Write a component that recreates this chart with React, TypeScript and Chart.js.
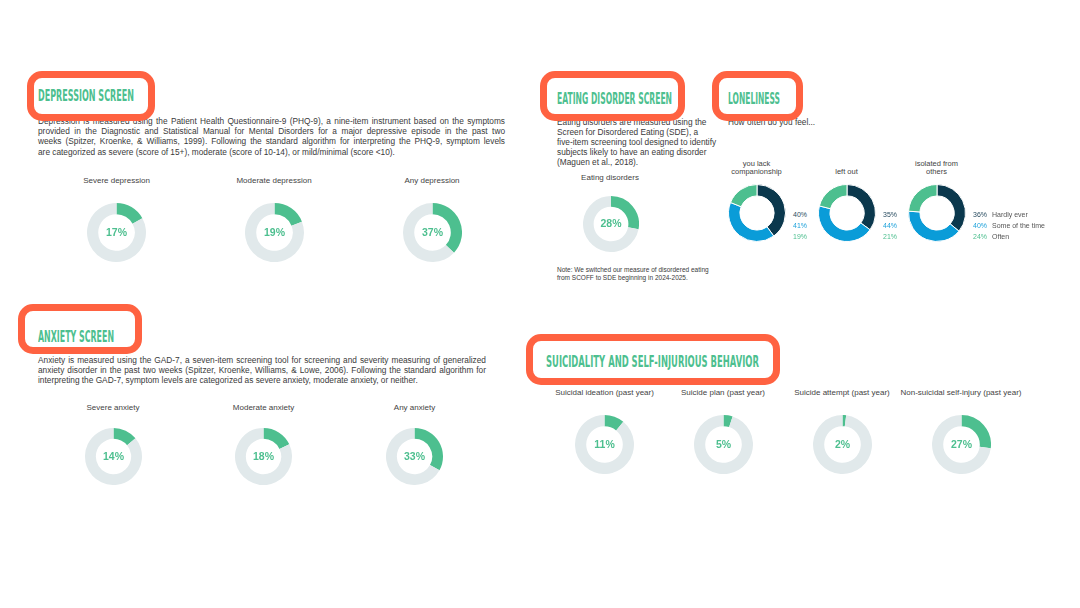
import React, { useEffect, useRef } from "react";
import { Chart, registerables } from "chart.js";

Chart.register(...registerables);

// ---------- data ----------
const depressionLabels = ["Severe depression", "Moderate depression", "Any depression"];
const depressionValues = [17, 19, 37];

const eatingLabels = ["Eating disorders"];
const eatingValues = [28];

const anxietyLabels = ["Severe anxiety", "Moderate anxiety", "Any anxiety"];
const anxietyValues = [14, 18, 33];

const suicidalityLabels = [
  "Suicidal ideation (past year)",
  "Suicide plan (past year)",
  "Suicide attempt (past year)",
  "Non-suicidal self-injury (past year)",
];
const suicidalityValues = [11, 5, 2, 27];

const lonelinessQuestions = [["you lack", "companionship"], ["left out"], ["isolated from", "others"]];
const lonelinessResponses = ["Hardly ever", "Some of the time", "Often"];
const hardlyEver = [40, 35, 36];
const someOfTheTime = [41, 44, 40];
const often = [19, 21, 24];

// ---------- style ----------
const GREEN = "#4DBF8F";
const TRACK = "#E1E9EB";
const RED = "#FF6241";
const NAVY = "#0B384D";
const BLUE = "#0A9CD8";
const TEXT = "#3a3a3a";
const BODY_FONT = "'Liberation Sans', Arial, sans-serif";

let measureCtx: CanvasRenderingContext2D | null = null;
function measure(text: string, font: string) {
  if (!measureCtx) measureCtx = document.createElement("canvas").getContext("2d");
  measureCtx!.font = font;
  return measureCtx!.measureText(text).width;
}

function Donut(props: {
  cx: number; cy: number; r: number; data: number[]; colors: string[]; cutout: string;
  border?: number; center?: string; labels: string[];
}) {
  const ref = useRef<HTMLCanvasElement>(null);
  const { cx, cy, r, data, colors, cutout, border = 0, center, labels } = props;
  useEffect(() => {
    const centerPlugin = {
      id: "centerText",
      afterDraw(chart: any) {
        if (!center) return;
        const { ctx, chartArea } = chart;
        ctx.save();
        ctx.font = "bold 10.5px 'Liberation Sans', Arial, sans-serif";
        ctx.fillStyle = GREEN;
        ctx.textAlign = "center";
        ctx.textBaseline = "middle";
        ctx.fillText(center, (chartArea.left + chartArea.right) / 2, (chartArea.top + chartArea.bottom) / 2 + 0.5);
        ctx.restore();
      },
    };
    const chart = new Chart(ref.current!, {
      type: "doughnut",
      data: {
        labels,
        datasets: [
          {
            data,
            backgroundColor: colors,
            borderWidth: border,
            borderColor: "#ffffff",
            hoverOffset: 0,
          },
        ],
      },
      options: {
        responsive: false,
        animation: false,
        cutout,
        events: [],
        layout: { padding: 0 },
        plugins: { legend: { display: false }, tooltip: { enabled: false } },
      },
      plugins: [centerPlugin],
    });
    return () => chart.destroy();
  }, []);
  const size = Math.round(2 * r + border);
  return (
    <canvas
      ref={ref}
      width={size}
      height={size}
      style={{ position: "absolute", left: cx - size / 2, top: cy - size / 2, width: size, height: size }}
    />
  );
}

function Heading(props: { text: string; x: number; cy: number; width: number }) {
  const fs = 15.5;
  const font = `bold ${fs}px 'DejaVu Sans', sans-serif`;
  const natural = measure(props.text, font);
  const k = props.width / natural;
  return (
    <div
      style={{
        position: "absolute",
        left: props.x,
        top: props.cy - fs * 0.48,
        font,
        lineHeight: `${fs}px`,
        color: GREEN,
        whiteSpace: "nowrap",
        transform: `scaleX(${k})`,
        transformOrigin: "0 0",
      }}
    >
      {props.text}
    </div>
  );
}

function Box(props: { l: number; t: number; r: number; b: number }) {
  return (
    <div
      style={{
        position: "absolute",
        left: props.l,
        top: props.t,
        width: props.r - props.l,
        height: props.b - props.t,
        boxSizing: "border-box",
        border: `7px solid ${RED}`,
        borderRadius: 15,
        background: "#ffffff",
      }}
    />
  );
}

function Lines(props: {
  x: number; cy: number; width: number; lh: number; fs: number; lines: string[]; justify?: boolean; color?: string;
}) {
  const { x, cy, width, lh, fs, lines, justify, color = TEXT } = props;
  return (
    <>
      {lines.map((ln, i) => (
        <div
          key={i}
          style={{
            position: "absolute",
            left: x,
            top: cy - lh / 2 + i * lh,
            width,
            height: lh,
            lineHeight: `${lh}px`,
            fontSize: fs,
            fontFamily: BODY_FONT,
            color,
            whiteSpace: "nowrap",
            textAlign: justify && i < lines.length - 1 ? "justify" : "left",
            textAlignLast: (justify && i < lines.length - 1 ? "justify" : "left") as any,
          }}
        >
          {ln}
        </div>
      ))}
    </>
  );
}

function Label(props: { cx: number; cy: number; text: string; fs?: number; color?: string }) {
  const fs = props.fs ?? 8;
  return (
    <div
      style={{
        position: "absolute",
        left: props.cx - 100,
        width: 200,
        top: props.cy - 6,
        height: 12,
        lineHeight: "12px",
        textAlign: "center",
        fontSize: fs,
        fontFamily: BODY_FONT,
        color: props.color ?? "#444",
        whiteSpace: "nowrap",
      }}
    >
      {props.text}
    </div>
  );
}

function Small(props: { x: number; cy: number; text: string; color: string; fs?: number }) {
  return (
    <div
      style={{
        position: "absolute",
        left: props.x,
        top: props.cy - 5,
        height: 10,
        lineHeight: "10px",
        fontSize: props.fs ?? 7,
        fontFamily: BODY_FONT,
        color: props.color,
        whiteSpace: "nowrap",
      }}
    >
      {props.text}
    </div>
  );
}

const depressionText = [
  "Depression is measured using the Patient Health Questionnaire-9 (PHQ-9), a nine-item instrument based on the symptoms",
  "provided in the Diagnostic and Statistical Manual for Mental Disorders for a major depressive episode in the past two",
  "weeks (Spitzer, Kroenke, & Williams, 1999). Following the standard algorithm for interpreting the PHQ-9, symptom levels",
  "are categorized as severe (score of 15+), moderate (score of 10-14), or mild/minimal (score <10).",
];
const anxietyText = [
  "Anxiety is measured using the GAD-7, a seven-item screening tool for screening and severity measuring of generalized",
  "anxiety disorder in the past two weeks (Spitzer, Kroenke, Williams, & Lowe, 2006). Following the standard algorithm for",
  "interpreting the GAD-7, symptom levels are categorized as severe anxiety, moderate anxiety, or neither.",
];
const eatingText = [
  "Eating disorders are measured using the",
  "Screen for Disordered Eating (SDE), a",
  "five-item screening tool designed to identify",
  "subjects likely to have an eating disorder",
  "(Maguen et al., 2018).",
];
const eatingNote = [
  "Note: We switched our measure of disordered eating",
  "from SCOFF to SDE beginning in 2024-2025.",
];

export default function App() {
  const depX = [116.5, 274, 432];
  const anxX = [113, 263.5, 414.5];
  const suiX = [604.5, 723, 842, 961];
  const lonX = [756.5, 846.5, 936.5];
  const lonLegendX = [793, 883, 973];
  const legendY = [215, 226, 237];
  const legendColors = ["#2A4D61", "#1EA2DB", GREEN];

  return (
    <div style={{ position: "absolute", left: 0, top: 0, width: 1080, height: 608, background: "#fff", overflow: "hidden" }}>
      {/* Depression */}
      <Lines x={38} cy={121} width={467} lh={10.3} fs={8.3} lines={depressionText} justify />
      <Box l={27} t={71} r={155} b={121} />
      <Heading text="DEPRESSION SCREEN" x={38} cy={96.5} width={96} />
      {depressionLabels.map((lab, i) => (
        <Label key={lab} cx={depX[i]} cy={181} text={lab} />
      ))}
      {depressionValues.map((v, i) => (
        <Donut key={i} cx={depX[i]} cy={232} r={29.5} data={[v, 100 - v]} colors={[GREEN, TRACK]} cutout="62%"
          center={`${v}%`} labels={[depressionLabels[i], "Other"]} />
      ))}

      {/* Eating disorder */}
      <Lines x={557} cy={121.5} width={170} lh={10} fs={8.3} lines={eatingText} />
      <Box l={540} t={71} r={685} b={121} />
      <Heading text="EATING DISORDER SCREEN" x={557} cy={99} width={115} />
      <Label cx={610} cy={178} text={eatingLabels[0]} />
      <Donut cx={611} cy={224} r={28} data={[eatingValues[0], 100 - eatingValues[0]]} colors={[GREEN, TRACK]}
        cutout="62%" center={`${eatingValues[0]}%`} labels={[eatingLabels[0], "Other"]} />
      <Lines x={557} cy={269.5} width={170} lh={8} fs={6.5} lines={eatingNote} />

      {/* Loneliness */}
      <Lines x={728} cy={121.5} width={120} lh={10} fs={8.3} lines={["How often do you feel..."]} />
      <Box l={712} t={71} r={803} b={121} />
      <Heading text="LONELINESS" x={728} cy={99} width={52} />
      {lonelinessQuestions.map((q, i) =>
        q.map((ln, j) => (
          <Label key={`${i}-${j}`} cx={lonX[i]} cy={172 - (q.length - 1 - j) * 8} text={ln} fs={7.5} />
        ))
      )}
      {lonX.map((x, i) => (
        <Donut key={i} cx={x} cy={212.5} r={28.5} data={[hardlyEver[i], someOfTheTime[i], often[i]]}
          colors={[NAVY, BLUE, GREEN]} cutout="60%" border={1} labels={lonelinessResponses} />
      ))}
      {lonLegendX.map((x, i) =>
        [hardlyEver[i], someOfTheTime[i], often[i]].map((v, j) => (
          <Small key={`${i}-${j}`} x={x} cy={legendY[j]} text={`${v}%`} color={legendColors[j]} />
        ))
      )}
      {lonelinessResponses.map((t, j) => (
        <Small key={t} x={992} cy={legendY[j]} text={t} color="#555" />
      ))}

      {/* Anxiety */}
      <Lines x={38} cy={361} width={448} lh={9.8} fs={8.3} lines={anxietyText} justify />
      <Box l={18} t={304} r={142} b={354} />
      <Heading text="ANXIETY SCREEN" x={38} cy={337} width={76} />
      {anxietyLabels.map((lab, i) => (
        <Label key={lab} cx={anxX[i]} cy={408} text={lab} />
      ))}
      {anxietyValues.map((v, i) => (
        <Donut key={i} cx={anxX[i]} cy={456.5} r={28.3} data={[v, 100 - v]} colors={[GREEN, TRACK]} cutout="62%"
          center={`${v}%`} labels={[anxietyLabels[i], "Other"]} />
      ))}

      {/* Suicidality */}
      <Box l={526} t={334} r={780} b={385} />
      <Heading text="SUICIDALITY AND SELF-INJURIOUS BEHAVIOR" x={546} cy={362} width={213} />
      {suicidalityLabels.map((lab, i) => (
        <Label key={lab} cx={suiX[i]} cy={393} text={lab} />
      ))}
      {suicidalityValues.map((v, i) => (
        <Donut key={i} cx={suiX[i]} cy={444.5} r={29.5} data={[v, 100 - v]} colors={[GREEN, TRACK]} cutout="62%"
          center={`${v}%`} labels={[suicidalityLabels[i], "Other"]} />
      ))}
    </div>
  );
}
